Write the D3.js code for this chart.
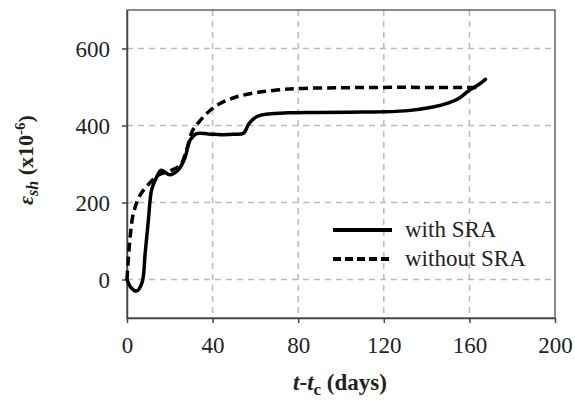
<!DOCTYPE html>
<html>
<head>
<meta charset="utf-8">
<script src="https://cdn.jsdelivr.net/npm/d3@7"></script>
<style>
  body { margin: 0; background: #fff; }
  text { font-family: "Liberation Serif", "Times New Roman", serif; }
</style>
</head>
<body>
<div id="chart"></div>
<script>
// data
const days_with = [0, 2, 4.5, 7, 8.5, 10, 11.5, 13.5, 16, 20, 24, 27, 29.5, 32.5, 38, 44, 50, 54.5, 57, 61, 66, 75, 90, 110, 130, 143, 150, 155, 160, 164, 167.5];
const shrink_with = [0, -22, -30, -9, 69, 155, 233, 262, 284, 272, 285, 315, 362, 379, 378, 376, 377, 380, 405, 424, 430, 433, 434, 435, 438, 448, 458, 470, 492, 505, 520];

const days_without = [0, 0.7, 1.5, 3, 6, 10.5, 15, 20, 25, 28, 30.5, 33, 38, 43.5, 51, 60, 70, 80, 100, 120, 140, 165];
const shrink_without = [0, 60, 112, 172, 218, 250, 272, 282, 298, 340, 385, 405, 435, 457, 474, 485, 492, 496, 498, 499, 499, 499];

const x_ticks = [0, 40, 80, 120, 160, 200];
const y_ticks = [0, 200, 400, 600];

const width = 575, height = 403;
const margin = {top: 10, right: 20, bottom: 85, left: 127};
const serif = "'Liberation Serif', 'Times New Roman', serif";

const svg = d3.select("#chart")
  .append("svg")
    .attr("width", width)
    .attr("height", height);

const x = d3.scaleLinear().domain([0, 200]).range([margin.left, width - margin.right]);
const y = d3.scaleLinear().domain([-100, 700]).range([height - margin.bottom, margin.top]);

// grid
svg.append("g")
  .selectAll("line")
  .data(x_ticks.slice(1, -1))
  .join("line")
    .attr("x1", d => x(d)).attr("x2", d => x(d))
    .attr("y1", y(700)).attr("y2", y(-100))
    .attr("stroke", "#bbb").attr("stroke-width", 1.5).attr("stroke-dasharray", "6,5");
svg.append("g")
  .selectAll("line")
  .data(y_ticks)
  .join("line")
    .attr("x1", x(0)).attr("x2", x(200))
    .attr("y1", d => y(d)).attr("y2", d => y(d))
    .attr("stroke", "#bbb").attr("stroke-width", 1.5).attr("stroke-dasharray", "6,5");

// frame (top/right)
svg.append("rect")
  .attr("x", x(0)).attr("y", y(700))
  .attr("width", x(200) - x(0)).attr("height", y(-100) - y(700))
  .attr("fill", "none").attr("stroke", "#666").attr("stroke-width", 1.5);

// axes
const xAxis = svg.append("g")
  .attr("transform", `translate(0,${y(-100)})`)
  .call(d3.axisBottom(x).tickValues(x_ticks).tickSize(5).tickSizeOuter(0).tickPadding(14));
const yAxis = svg.append("g")
  .attr("transform", `translate(${x(0)},0)`)
  .call(d3.axisLeft(y).tickValues(y_ticks).tickSize(5).tickSizeOuter(0).tickPadding(12));

[xAxis, yAxis].forEach(a => {
  a.attr("font-family", serif).attr("font-size", 23);
  a.select(".domain").attr("stroke", "#444").attr("stroke-width", 1.5);
  a.selectAll(".tick line").attr("stroke", "#444").attr("stroke-width", 1.5);
  a.selectAll("text").attr("fill", "#222");
});
yAxis.selectAll("text").attr("dy", "0.35em");

// lines
const line = d3.line()
  .x(d => x(d[0]))
  .y(d => y(d[1]))
  .curve(d3.curveCatmullRom.alpha(0.5));

svg.append("path")
  .datum(days_without.map((d, i) => [d, shrink_without[i]]))
  .attr("fill", "none").attr("stroke", "#000").attr("stroke-width", 3.5)
  .attr("stroke-dasharray", "9,5")
  .attr("d", line);

svg.append("path")
  .datum(days_with.map((d, i) => [d, shrink_with[i]]))
  .attr("fill", "none").attr("stroke", "#000").attr("stroke-width", 3.5)
  .attr("stroke-linecap", "round")
  .attr("d", line);

// legend
const legend = svg.append("g").attr("transform", "translate(333,230)");
const items = [{label: "with SRA", dash: null}, {label: "without SRA", dash: "8,4"}];
items.forEach((it, i) => {
  legend.append("line")
    .attr("x1", 0).attr("x2", 59)
    .attr("y1", i * 29).attr("y2", i * 29)
    .attr("stroke", "#000").attr("stroke-width", 4)
    .attr("stroke-dasharray", it.dash);
  legend.append("text")
    .attr("x", 72).attr("y", i * 29 + 7)
    .style("font-size", "23px")
    .attr("fill", "#222")
    .text(it.label);
});

// axis titles
const xt = svg.append("text")
  .attr("x", 340).attr("y", 390)
  .attr("text-anchor", "middle")
  .style("font-size", "23px")
  .style("font-weight", "bold")
  .attr("fill", "#222");
xt.append("tspan").style("font-style", "italic").text("t");
xt.append("tspan").text("-");
xt.append("tspan").style("font-style", "italic").text("t");
xt.append("tspan").attr("dy", 5).style("font-size", "17px").text("c");
xt.append("tspan").attr("dy", -5).text(" (days)");

const yt = svg.append("text")
  .attr("transform", "translate(33,160) rotate(-90)")
  .attr("text-anchor", "middle")
  .style("font-size", "22px")
  .style("font-weight", "bold")
  .attr("fill", "#222");
yt.append("tspan").style("font-style", "italic").text("ε");
yt.append("tspan").attr("dy", 5).style("font-size", "16px").style("font-style", "italic").text("sh");
yt.append("tspan").attr("dy", -5).text(" (x10");
yt.append("tspan").attr("dy", -8).style("font-size", "15px").text("-6");
yt.append("tspan").attr("dy", 8).text(")");
</script>
</body>
</html>
